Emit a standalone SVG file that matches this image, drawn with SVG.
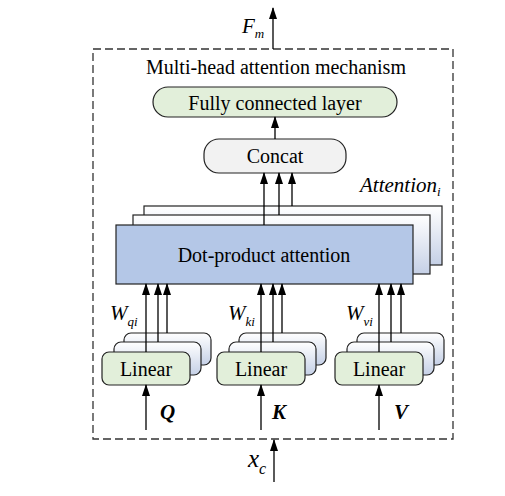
<svg xmlns="http://www.w3.org/2000/svg" width="505" height="496" viewBox="0 0 505 496" font-family="Liberation Serif, Times New Roman, serif">
<defs>
<marker id="ah" markerWidth="12" markerHeight="8" refX="11" refY="4" orient="auto" markerUnits="userSpaceOnUse" viewBox="0 0 12 8">
<path d="M0,0 L12,4 L0,8 Z" fill="#000"/>
</marker>
<linearGradient id="gb" x1="0" y1="0" x2="0" y2="1">
<stop offset="0" stop-color="#ffffff"/>
<stop offset="1" stop-color="#c5d0e6"/>
</linearGradient>
</defs>
<rect x="0" y="0" width="505" height="496" fill="#fff"/>
<g id="frame">
<rect x="93" y="49" width="360" height="390" fill="none" stroke="#333" stroke-width="1.3" stroke-dasharray="8,4"/>
<text font-size="20" text-anchor="middle" x="276" y="74">Multi-head attention mechanism</text>
</g>
<g id="fc">
<rect x="153" y="87" width="244" height="30" rx="15" fill="#e2efda" stroke="#222" stroke-width="1.2"/>
<text font-size="20" text-anchor="middle" x="275" y="110">Fully connected layer</text>
</g>
<g id="concat">
<rect x="204" y="139" width="142" height="34" rx="15" fill="#f2f2f2" stroke="#222" stroke-width="1.2"/>
<text font-size="20" text-anchor="middle" x="275" y="163">Concat</text>
</g>
<g id="attention" stroke-width="1.2">
<rect fill="url(#gb)" stroke="#222" x="144" y="206" width="298" height="59"/>
<rect fill="url(#gb)" stroke="#222" x="133" y="215" width="297" height="59"/>
<rect x="116" y="225" width="297" height="59" fill="#b4c7e7" stroke="#222"/>
<text stroke="none" font-size="20" text-anchor="middle" x="264" y="262">Dot-product attention</text>
<text stroke="none" font-size="21" font-style="italic" x="360" y="192">Attention<tspan font-size="13" dy="4">i</tspan></text>
</g>
<g id="linear-q" stroke-width="1.2">
<rect fill="url(#gb)" stroke="#222" x="124" y="333" width="87" height="32" rx="7"/>
<rect fill="url(#gb)" stroke="#222" x="114" y="342" width="87" height="33" rx="7"/>
<rect fill="#e2efda" stroke="#222" x="102" y="352" width="88" height="33" rx="7"/>
<text stroke="none" font-size="20" text-anchor="middle" x="146" y="376">Linear</text>
</g>
<g id="linear-k" stroke-width="1.2">
<rect fill="url(#gb)" stroke="#222" x="239" y="333" width="87" height="32" rx="7"/>
<rect fill="url(#gb)" stroke="#222" x="229" y="342" width="87" height="33" rx="7"/>
<rect fill="#e2efda" stroke="#222" x="217" y="352" width="88" height="33" rx="7"/>
<text stroke="none" font-size="20" text-anchor="middle" x="261" y="376">Linear</text>
</g>
<g id="linear-v" stroke-width="1.2">
<rect fill="url(#gb)" stroke="#222" x="357" y="333" width="87" height="32" rx="7"/>
<rect fill="url(#gb)" stroke="#222" x="347" y="342" width="87" height="33" rx="7"/>
<rect fill="#e2efda" stroke="#222" x="335" y="352" width="88" height="33" rx="7"/>
<text stroke="none" font-size="20" text-anchor="middle" x="379" y="376">Linear</text>
</g>
<g id="labels" font-style="italic">
<text font-size="21" x="242" y="33">F<tspan font-size="13" dy="5">m</tspan></text>
<text font-size="25" x="248" y="467">x<tspan font-size="16" dy="7">c</tspan></text>
<text font-size="21" x="110" y="320">W<tspan font-size="13" dy="6">qi</tspan></text>
<text font-size="21" x="228" y="320">W<tspan font-size="13" dy="6">ki</tspan></text>
<text font-size="21" x="346" y="320">W<tspan font-size="13" dy="6">vi</tspan></text>
<text font-size="21" font-weight="bold" x="160" y="419">Q</text>
<text font-size="21" font-weight="bold" x="272" y="419">K</text>
<text font-size="21" font-weight="bold" x="394" y="419">V</text>
</g>
<g id="connectors" stroke="#000" stroke-width="1.3" fill="none" marker-end="url(#ah)">
<line x1="273" y1="49" x2="273" y2="8"/>
<line x1="274" y1="482" x2="274" y2="440"/>
<line x1="275" y1="139" x2="275" y2="117"/>
<line x1="264" y1="225" x2="264" y2="173"/>
<line x1="279" y1="215" x2="279" y2="173"/>
<line x1="292" y1="206" x2="292" y2="173"/>
<line x1="146" y1="352" x2="146" y2="284"/>
<line x1="158" y1="342" x2="158" y2="284"/>
<line x1="167" y1="333" x2="167" y2="284"/>
<line x1="261" y1="352" x2="261" y2="284"/>
<line x1="273" y1="342" x2="273" y2="284"/>
<line x1="282" y1="333" x2="282" y2="284"/>
<line x1="379" y1="352" x2="379" y2="284"/>
<line x1="391" y1="342" x2="391" y2="284"/>
<line x1="401" y1="333" x2="401" y2="284"/>
<line x1="146" y1="430" x2="146" y2="385"/>
<line x1="261" y1="430" x2="261" y2="385"/>
<line x1="379" y1="430" x2="379" y2="385"/>
</g>
</svg>
